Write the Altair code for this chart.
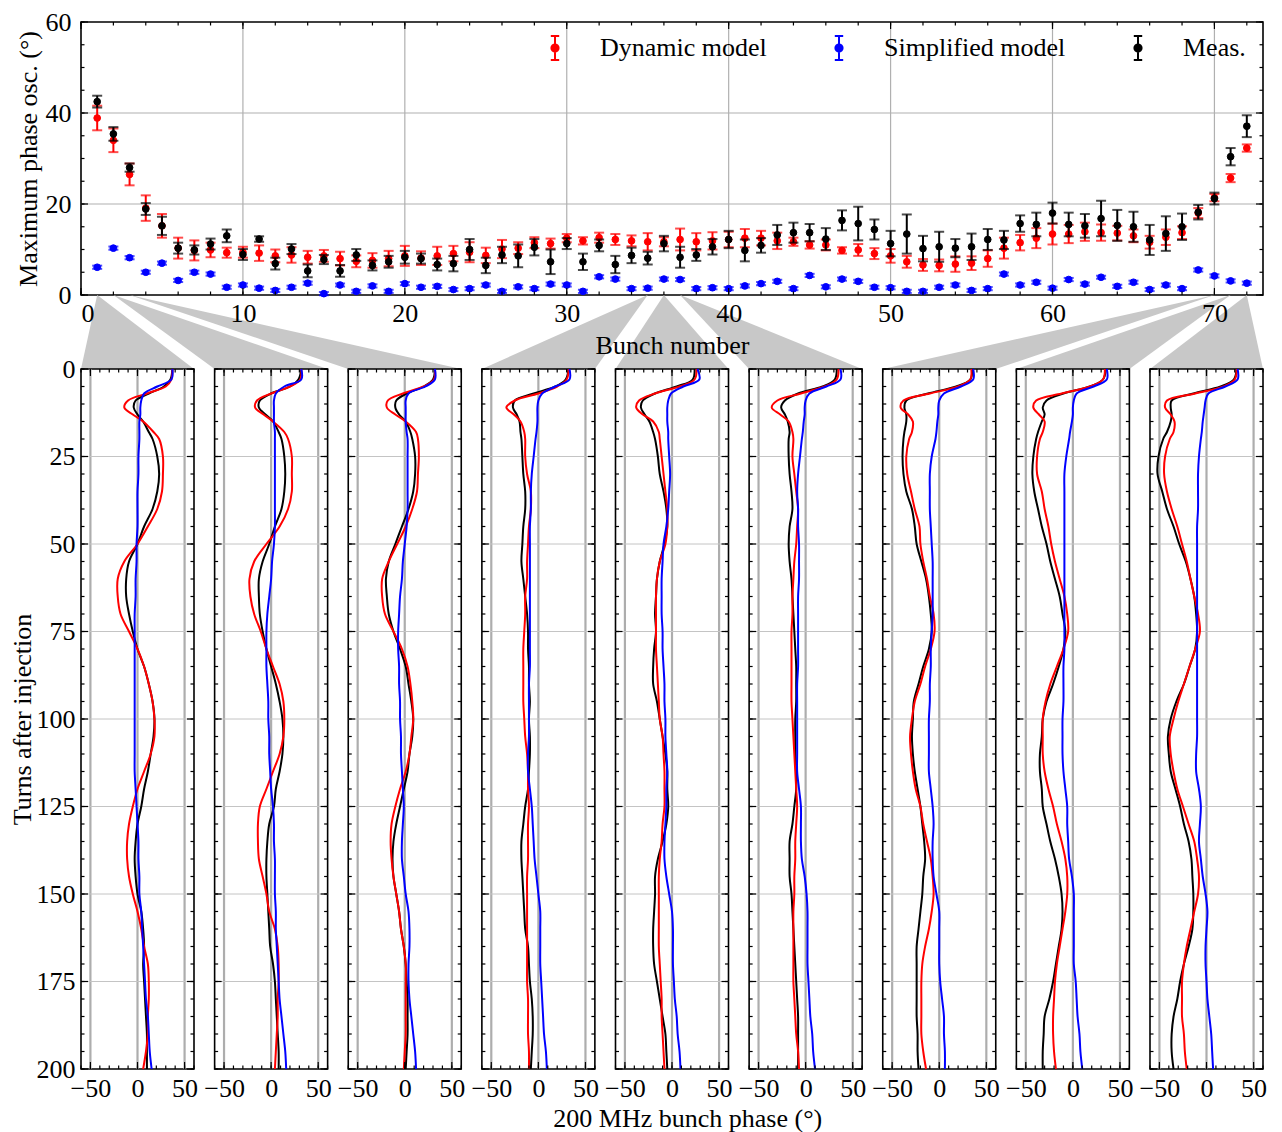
import altair as alt
import pandas as pd

FONT = "Liberation Serif"
FS = 26
RED, BLUE, BLACK = "#ff0000", "#0000ff", "#000000"

TOP_W, TOP_H = 1182, 273
VSPACE = 74
PW, PH = 113, 700
HSPACE = (TOP_W - 9 * PW) / 8
XMAX = 73

SERIES = ["Dynamic model", "Simplified model", "Meas."]
COLORS = [RED, BLUE, BLACK]

# ---------------- top panel data ----------------
BUNCH = list(range(1, 73))
MEAS_VAL = [42.5, 35.4, 28.0, 18.9, 15.2, 10.3, 9.9, 11.2, 13.0, 8.9,
            12.3, 6.9, 10.1, 5.3, 7.8, 5.3, 8.8, 6.5, 7.3, 8.3,
            8.0, 6.7, 6.9, 10.0, 6.5, 8.8, 8.6, 10.5, 7.3, 11.3,
            7.3, 10.9, 6.7, 8.7, 8.1, 11.3, 8.3, 8.8, 10.6, 12.2,
            9.8, 10.9, 13.2, 13.7, 13.7, 12.3, 16.4, 15.7, 14.4, 11.3,
            13.4, 10.2, 10.6, 10.3, 10.6, 12.2, 12.1, 15.7, 15.5, 18.0,
            15.5, 15.2, 16.8, 15.3, 15.0, 12.1, 13.5, 15.0, 18.2, 21.2,
            30.4, 37.1]
MEAS_ERR = [1.3, 1.5, 0.9, 1.3, 2.0, 1.2, 1.0, 1.2, 1.4, 1.2,
            0.6, 1.3, 1.1, 1.4, 1.0, 1.3, 1.3, 1.1, 1.3, 1.4,
            1.1, 1.3, 1.7, 2.3, 1.7, 1.8, 2.5, 1.8, 2.7, 1.2,
            1.8, 1.3, 1.9, 1.7, 1.4, 1.7, 2.3, 1.3, 1.7, 1.9,
            2.4, 1.6, 2.2, 2.2, 1.9, 2.4, 2.2, 3.7, 2.2, 2.8,
            4.3, 2.8, 3.3, 2.0, 2.9, 2.3, 2.0, 1.8, 2.6, 2.3,
            2.6, 2.6, 3.9, 3.4, 3.3, 3.3, 3.8, 2.9, 1.6, 1.3,
            1.9, 2.4]
DYN_VAL = [38.9, 34.0, 26.5, 19.1, 15.2, 10.3, 9.8, 9.9, 9.3, 9.4,
           9.2, 8.6, 8.8, 8.3, 8.6, 8.0, 7.4, 7.6, 8.0, 8.6,
           8.1, 8.6, 9.1, 9.4, 8.7, 10.1, 10.3, 11.5, 11.3, 12.5,
           11.9, 12.6, 12.2, 11.9, 11.7, 11.7, 12.2, 11.7, 11.9, 12.2,
           12.5, 12.5, 11.9, 11.7, 11.0, 11.0, 9.8, 9.9, 9.1, 8.6,
           7.3, 6.6, 6.5, 6.8, 7.0, 8.0, 10.3, 11.5, 12.5, 13.4,
           13.4, 13.9, 13.7, 13.6, 13.0, 11.6, 12.7, 13.7, 18.0, 21.4,
           25.7, 32.3]
DYN_ERR = [2.7, 2.6, 2.4, 2.8, 2.6, 2.3, 2.2, 1.6, 1.1, 1.2,
           1.7, 1.4, 1.7, 1.4, 1.3, 1.5, 1.3, 1.6, 1.7, 2.2,
           1.5, 2.0, 1.7, 2.2, 1.7, 2.0, 1.3, 1.2, 1.1, 0.9,
           0.8, 1.1, 1.2, 1.2, 1.9, 1.0, 2.4, 1.9, 1.9, 1.7,
           2.0, 1.6, 1.8, 0.9, 0.8, 1.2, 0.7, 1.3, 1.2, 1.5,
           1.3, 1.3, 1.3, 1.7, 1.5, 1.8, 2.3, 1.7, 2.2, 2.3,
           2.0, 2.0, 1.8, 1.6, 1.4, 1.4, 1.7, 1.4, 1.1, 0.8,
           0.9, 0.8]
SIMP_VAL = [6.1, 10.3, 8.2, 5.0, 7.0, 3.2, 5.0, 4.6, 1.7, 2.2,
            1.5, 1.0, 1.7, 2.6, 0.3, 2.2, 0.8, 2.0, 0.8, 2.5,
            1.7, 1.9, 1.2, 1.4, 2.2, 0.8, 1.8, 1.4, 2.4, 2.2,
            0.8, 4.0, 3.5, 1.4, 1.5, 3.5, 3.4, 1.4, 1.6, 1.4,
            2.0, 2.5, 3.0, 1.4, 4.3, 1.8, 3.5, 3.0, 1.7, 1.6,
            0.8, 0.8, 1.7, 2.2, 1.0, 1.4, 4.6, 2.2, 2.8, 1.5,
            3.4, 2.4, 3.9, 1.9, 2.8, 1.2, 2.2, 1.4, 5.5, 4.2,
            3.1, 2.6]
SIMP_ERR = [0.35] * 72

# ---------------- bottom panels data ----------------
PANEL_BUNCH = [1, 2, 3, 35, 36, 37, 70, 71, 72]
TURNS = [0, 3, 5, 7, 9, 11, 13, 15, 18, 20,
         25, 30, 35, 40, 45, 50, 55, 60, 65, 70,
         75, 80, 85, 90, 95, 100, 105, 110, 115, 120,
         125, 130, 135, 140, 145, 150, 155, 160, 165, 170,
         175, 180, 185, 190, 195, 200]

DYN_PHASE = [
    [37, 36, 30, 10, -10, -14, -5, 6, 17, 23, 27, 27, 26, 21, 11, 0, -14, -21, -21, -18,
     -9, 0, 7, 12, 16, 18, 18, 14, 7, 0, -5, -9, -11, -11, -9, -5, 0, 4, 7, 11, 12, 12, 11, 11, 9, 6],
    [32, 31, 20, 0, -15, -17, -8, 2, 14, 18, 22, 22, 22, 18, 9, -5, -18, -23, -22, -18,
     -11, -5, 2, 9, 13, 14, 13, 9, 2, -5, -12, -14, -14, -13, -9, -5, -2, 4, 7, 8, 8, 7, 7, 6, 5, 4],
    [32, 31, 20, -2, -18, -19, -10, 1, 12, 14, 15, 14, 13, 8, 1, -8, -17, -24, -24, -21,
     -12, -3, 3, 6, 8, 9, 7, 5, 1, -5, -10, -14, -15, -14, -12, -9, -6, -4, -1, 1, 1, 1, 1, 1, 0, -1],
    [32, 30, 20, 0, -25, -34, -26, -19, -15, -14, -14, -12, -8, -8, -10, -11, -12, -12, -14, -14,
     -15, -16, -16, -16, -16, -15, -14, -12, -11, -11, -10, -11, -11, -11, -12, -12, -12, -12, -12, -12,
     -12, -11, -11, -11, -10, -10],
    [26, 24, 8, -18, -35, -38, -31, -20, -14, -13, -11, -9, -7, -5, -5, -7, -13, -16, -17, -17,
     -17, -17, -16, -15, -14, -13, -10, -9, -8, -8, -8, -10, -11, -13, -14, -14, -14, -14, -14, -13,
     -12, -11, -11, -10, -9, -8],
    [35, 33, 20, -5, -30, -36, -27, -18, -14, -13, -14, -12, -10, -8, -9, -10, -12, -13, -14, -14,
     -15, -15, -15, -15, -15, -14, -13, -12, -11, -10, -9, -10, -11, -11, -12, -12, -13, -13, -13, -13,
     -13, -12, -11, -10, -8, -7],
    [34, 33, 20, -10, -38, -41, -33, -28, -29, -32, -35, -34, -30, -26, -21, -20, -17, -13, -10, -6,
     -5, -9, -15, -20, -26, -29, -31, -30, -28, -25, -20, -17, -13, -9, -7, -6, -8, -11, -15, -18,
     -19, -19, -19, -19, -17, -14],
    [34, 32, 18, -12, -39, -42, -36, -30, -32, -35, -38, -38, -33, -30, -26, -23, -19, -14, -9, -6,
     -5, -10, -17, -24, -29, -32, -32, -32, -30, -26, -21, -17, -12, -8, -6, -6, -8, -11, -14, -17,
     -19, -20, -21, -21, -20, -18],
    [32, 30, 18, -12, -42, -44, -38, -34, -35, -39, -44, -45, -42, -37, -31, -26, -21, -17, -13, -9,
     -7, -12, -18, -24, -30, -35, -39, -38, -35, -31, -25, -19, -13, -10, -8, -9, -13, -17, -21, -24,
     -26, -26, -26, -24, -23, -21],
]
MEAS_PHASE = [
    [37, 35, 28, 12, -2, -4, 0, 6, 12, 16, 21, 23, 21, 16, 7, 0, -9, -12, -12, -9,
     -5, 0, 7, 12, 16, 18, 17, 14, 11, 7, 4, 0, -2, -3, -2, 0, 4, 6, 7, 6, 7, 8, 9, 10, 10, 10],
    [32, 29, 20, 0, -12, -13, -6, 2, 8, 11, 14, 15, 14, 11, 4, -2, -9, -13, -13, -12,
     -9, -5, 0, 5, 9, 12, 13, 12, 9, 5, 3, -2, -4, -5, -5, -4, -3, -2, -1, 2, 4, 5, 6, 7, 8, 8],
    [32, 30, 20, 2, -9, -10, -6, 1, 6, 8, 11, 11, 9, 4, -3, -10, -17, -20, -19, -17,
     -12, -5, 1, 4, 7, 9, 8, 5, 3, -1, -5, -9, -12, -13, -12, -9, -6, -4, -1, 1, 2, 3, 3, 3, 2, 1],
    [32, 29, 18, -5, -25, -27, -23, -20, -19, -18, -17, -16, -14, -14, -16, -17, -18, -16, -14, -12,
     -11, -11, -10, -10, -9, -10, -9, -9, -10, -11, -14, -16, -18, -18, -17, -16, -15, -14, -11, -10,
     -9, -7, -6, -6, -7, -8],
    [24, 22, 5, -18, -31, -33, -29, -24, -20, -18, -15, -13, -9, -6, -5, -8, -13, -16, -17, -18,
     -17, -19, -20, -20, -16, -13, -10, -7, -5, -5, -4, -6, -10, -15, -18, -18, -19, -20, -20, -19,
     -16, -13, -10, -7, -6, -5],
    [33, 31, 18, -8, -22, -26, -22, -19, -17, -18, -18, -17, -15, -14, -17, -18, -17, -15, -14, -13,
     -12, -11, -10, -10, -10, -11, -11, -11, -10, -10, -12, -14, -17, -17, -17, -15, -14, -13, -12, -11,
     -10, -9, -8, -8, -8, -8],
    [35, 33, 18, -12, -35, -37, -35, -35, -37, -38, -39, -38, -35, -29, -26, -24, -19, -14, -11, -9,
     -8, -11, -17, -22, -27, -28, -29, -28, -26, -23, -20, -18, -16, -15, -17, -18, -20, -22, -24, -24,
     -24, -24, -24, -23, -23, -22],
    [35, 32, 18, -10, -28, -32, -30, -33, -37, -39, -42, -43, -41, -37, -33, -28, -24, -19, -14, -11,
     -8, -10, -15, -21, -28, -32, -33, -35, -35, -33, -32, -28, -24, -19, -15, -12, -11, -12, -15, -18,
     -21, -25, -30, -31, -32, -32],
    [32, 29, 15, -14, -37, -38, -37, -38, -42, -46, -51, -52, -47, -42, -35, -29, -22, -17, -13, -11,
     -10, -12, -18, -24, -32, -38, -41, -40, -38, -33, -28, -24, -19, -16, -15, -14, -14, -15, -19, -24,
     -28, -31, -35, -37, -37, -35],
]
SIMP_PHASE = [
    [37, 36, 21, 7, 4, 3, 3, 2, 2, 2, 1, 1, 0, 0, 0, -1, -1, -2, -2, -3,
     -3, -3, -3, -3, -3, -3, -3, -3, -3, -2, -1, 0, 1, 1, 2, 2, 4, 5, 6, 7, 8, 9, 11, 12, 13, 15],
    [32, 32, 14, 5, 3, 3, 3, 3, 4, 4, 4, 4, 4, 4, 4, 3, 1, 0, -2, -4,
     -5, -5, -5, -4, -3, -3, -2, -2, -1, 0, 2, 3, 3, 4, 4, 4, 5, 5, 6, 7, 8, 9, 11, 13, 15, 16],
    [32, 32, 22, 4, 1, 1, 1, 1, 2, 3, 3, 3, 3, 3, 2, 0, -2, -3, -5, -6,
     -7, -7, -6, -6, -5, -5, -4, -4, -3, -2, -1, -2, -3, -3, -1, 1, 4, 5, 5, 4, 4, 5, 7, 9, 11, 12],
    [33, 33, 18, 4, 0, -1, -1, -1, -2, -3, -5, -7, -8, -8, -9, -9, -9, -9, -9, -9,
     -9, -9, -9, -10, -10, -10, -10, -11, -11, -9, -7, -6, -5, -4, -2, 0, 2, 2, 2, 2, 3, 4, 5, 6, 8, 9],
    [27, 29, 12, -1, -4, -5, -5, -5, -4, -4, -3, -2, -3, -4, -6, -9, -10, -11, -11, -11,
     -10, -10, -9, -8, -8, -7, -7, -6, -5, -6, -6, -7, -8, -8, -6, -3, 0, 1, 1, 1, 2, 3, 5, 6, 8, 9],
    [37, 37, 22, 4, 0, -1, -1, -2, -3, -4, -6, -8, -9, -8, -8, -7, -7, -7, -8, -8,
     -8, -8, -8, -9, -9, -9, -9, -9, -9, -7, -5, -5, -5, -4, -1, 1, 2, 2, 2, 2, 3, 4, 5, 7, 8, 10],
    [36, 36, 23, 5, 0, -1, -1, -2, -3, -4, -8, -10, -10, -10, -9, -8, -7, -7, -7, -7,
     -8, -9, -9, -10, -10, -11, -11, -11, -11, -9, -7, -6, -7, -7, -6, -3, 0, 0, 0, 0, 1, 3, 5, 5, 6, 6],
    [36, 36, 22, 4, 1, 0, 0, -1, -3, -4, -7, -9, -9, -9, -9, -9, -9, -9, -9, -9,
     -9, -9, -10, -10, -10, -11, -11, -11, -10, -8, -6, -6, -5, -4, -1, 1, 1, 1, 1, 1, 3, 4, 5, 7, 8, 10],
    [33, 33, 20, 2, -1, -2, -3, -4, -5, -6, -8, -9, -9, -9, -10, -10, -10, -10, -10, -10,
     -10, -10, -10, -10, -10, -10, -10, -11, -11, -8, -6, -7, -8, -6, -4, -1, 1, 0, -1, -1, 0, 1, 3, 5, 6, 7],
]


# ---------------- helpers ----------------
def tick_layers(xscale, yscale, xax, yax, W, H, xmaj, xmin, ymaj, ymin, L1=7, L2=3.5):
    out = []
    for vals, L in ((xmaj, L1), (xmin, L2)):
        base = alt.Chart(pd.DataFrame({"v": vals})).mark_rule(color="black", strokeWidth=1.2)
        xe = alt.X("v:Q", scale=xscale, axis=xax)
        out.append(base.encode(x=xe, y=alt.value(H), y2=alt.value(H - L)))
        out.append(base.encode(x=xe, y=alt.value(0), y2=alt.value(L)))
    for vals, L in ((ymaj, L1), (ymin, L2)):
        base = alt.Chart(pd.DataFrame({"v": vals})).mark_rule(color="black", strokeWidth=1.2)
        ye = alt.Y("v:Q", scale=yscale, axis=yax)
        out.append(base.encode(y=ye, x=alt.value(0), x2=alt.value(L)))
        out.append(base.encode(y=ye, x=alt.value(W), x2=alt.value(W - L)))
    return out


def grid_layers(xscale, yscale, xax, yax, W, H, xv, yv, xcol, xw, ycol, yw):
    gx = alt.Chart(pd.DataFrame({"v": xv})).mark_rule(color=xcol, strokeWidth=xw).encode(
        x=alt.X("v:Q", scale=xscale, axis=xax), y=alt.value(0), y2=alt.value(H))
    gy = alt.Chart(pd.DataFrame({"v": yv})).mark_rule(color=ycol, strokeWidth=yw).encode(
        y=alt.Y("v:Q", scale=yscale, axis=yax), x=alt.value(0), x2=alt.value(W))
    return [gx, gy]


# ---------------- top chart ----------------
XS = alt.Scale(domain=[0, XMAX], nice=False, zero=False)
YS = alt.Scale(domain=[0, 60], nice=False)
CS = alt.Scale(domain=SERIES, range=COLORS)

XAX = alt.Axis(values=list(range(0, 71, 10)), format="d", grid=False, ticks=False, tickSize=0,
               domain=False, labelPadding=5, title="Bunch number", titlePadding=6,
               orient="bottom", zindex=1)
YAX = alt.Axis(values=[0, 20, 40, 60], format="d", grid=False, ticks=False, tickSize=0,
               domain=False, labelPadding=10, title="Maximum phase osc. (°)", titlePadding=4,
               orient="left", zindex=1)

PATH = ("M0,-1L0,1M-0.35,-1L0.35,-1M-0.35,1L0.35,1"
        "M-0.3,0A0.3,0.3,0,1,1,0.3,0A0.3,0.3,0,1,1,-0.3,0Z")
LEG = alt.Legend(title=None, orient="none", legendX=461, legendY=13, direction="horizontal",
                 columns=3, symbolType=PATH, symbolSize=576, symbolStrokeWidth=2,
                 labelFont=FONT, labelFontSize=FS, labelOffset=32, columnPadding=59,
                 padding=0, labelLimit=400, labelColor="black", symbolOpacity=1)

series_data = [
    ("Dynamic model", DYN_VAL, DYN_ERR, RED),
    ("Simplified model", SIMP_VAL, SIMP_ERR, BLUE),
    ("Meas.", MEAS_VAL, MEAS_ERR, BLACK),
]
main_layers = grid_layers(XS, YS, XAX, YAX, TOP_W, TOP_H, list(range(10, 71, 10)), [20, 40],
                          "#b0b0b0", 1.2, "#b0b0b0", 1.2)
for name, vals, errs, col in series_data:
    df = pd.DataFrame({
        "bunch": BUNCH, "val": vals,
        "lo": [v - e for v, e in zip(vals, errs)],
        "hi": [v + e for v, e in zip(vals, errs)],
        "series": [name] * len(BUNCH),
    })
    xe = alt.X("bunch:Q", scale=XS, axis=XAX)
    main_layers.append(alt.Chart(df).mark_rule(color=col, strokeWidth=2).encode(
        x=xe, y=alt.Y("lo:Q", scale=YS, axis=YAX), y2="hi:Q"))
    for f in ("lo", "hi"):
        main_layers.append(alt.Chart(df).mark_tick(color=col, orient="horizontal", size=10,
                                                   thickness=2).encode(
            x=xe, y=alt.Y(f + ":Q", scale=YS, axis=YAX)))
    main_layers.append(alt.Chart(df).mark_point(filled=True, size=45, opacity=1,
                                                strokeWidth=1).encode(
        x=xe, y=alt.Y("val:Q", scale=YS, axis=YAX),
        fill=alt.Fill("series:N", scale=CS, legend=LEG),
        stroke=alt.Stroke("series:N", scale=CS, legend=LEG)))

main_layers += tick_layers(XS, YS, XAX, YAX, TOP_W, TOP_H, list(range(0, 71, 10)),
                           list(range(0, 73, 2)), [0, 20, 40, 60], list(range(0, 61, 5)))
inner = alt.layer(*main_layers)

# connectors from bunches to panels
tri_rows = []
for k, b in enumerate(PANEL_BUNCH):
    left = k * (PW + HSPACE) * XMAX / TOP_W
    right = left + PW * XMAX / TOP_W
    tri_rows.append({"id": k, "t": 0, "xa": b, "xb": b})
    tri_rows.append({"id": k, "t": 1, "xa": left, "xb": right})
tri = alt.Chart(pd.DataFrame(tri_rows)).mark_area(color="#c8c8c8", opacity=1,
                                                  orient="horizontal").encode(
    y=alt.Y("t:Q", scale=alt.Scale(domain=[0, 1], range=[TOP_H, TOP_H + VSPACE]), axis=None),
    x=alt.X("xa:Q", scale=XS, axis=XAX), x2="xb:Q", detail="id:N")

top = alt.layer(inner, tri).resolve_scale(y="independent").properties(width=TOP_W, height=TOP_H)

# ---------------- bottom panels ----------------
XSB = alt.Scale(domain=[-60, 60], nice=False, zero=False)
YSB = alt.Scale(domain=[0, 200], reverse=True, nice=False)


def panel(k):
    xax = alt.Axis(values=[-50, 0, 50], format="d", grid=False, ticks=False, tickSize=0,
                   domain=False, labelPadding=6, title=None, orient="bottom")
    if k == 0:
        yax = alt.Axis(values=list(range(0, 201, 25)), format="d", grid=False, ticks=False,
                       tickSize=0, domain=False, labelPadding=6,
                       title="Turns after injection", titlePadding=1, orient="left")
    else:
        yax = None
    layers = grid_layers(XSB, YSB, xax, yax, PW, PH, [-50, 0, 50], list(range(25, 200, 25)),
                         "#adadad", 2.2, "#c4c4c4", 1.0)
    for arrs, col in ((MEAS_PHASE, BLACK), (DYN_PHASE, RED), (SIMP_PHASE, BLUE)):
        df = pd.DataFrame({"turn": TURNS, "phase": arrs[k]})
        layers.append(alt.Chart(df).mark_line(color=col, strokeWidth=2,
                                              interpolate="catmull-rom").encode(
            x=alt.X("phase:Q", scale=XSB, axis=xax),
            y=alt.Y("turn:Q", scale=YSB, axis=yax),
            order="turn:Q"))
    layers += tick_layers(XSB, YSB, xax, yax, PW, PH, [-50, 0, 50], list(range(-60, 61, 10)),
                          list(range(0, 201, 25)), list(range(0, 201, 5)))
    return alt.layer(*layers).properties(width=PW, height=PH)


bottom = alt.hconcat(*[panel(k) for k in range(9)], spacing=HSPACE, bounds="flush").properties(
    title=alt.TitleParams("200 MHz bunch phase (°)", orient="bottom", anchor="middle",
                          font=FONT, fontSize=FS, fontWeight="normal", color="black",
                          offset=4, dx=50))

chart = alt.vconcat(top, bottom, spacing=VSPACE, bounds="flush").properties(
    padding=0
).configure_view(stroke="black", strokeWidth=1.6).configure_axis(
    labelFont=FONT, labelFontSize=FS, titleFont=FONT, titleFontSize=FS,
    titleFontWeight="normal", labelColor="black", titleColor="black"
).configure_legend(labelFont=FONT, labelFontSize=FS)

chart.save("out.html", embed_options={"renderer": "svg", "actions": False})
